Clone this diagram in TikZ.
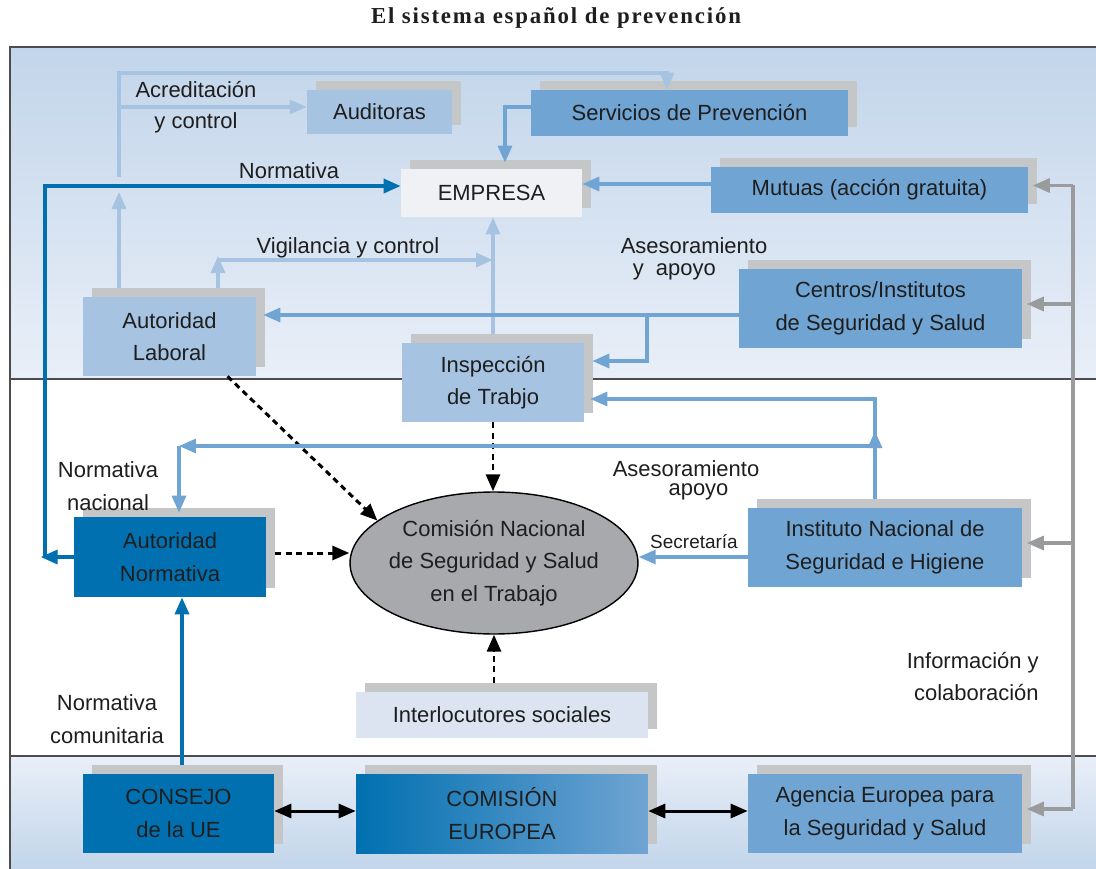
\documentclass[tikz,border=0pt]{standalone}
\usepackage{fontspec}
\setmainfont{Liberation Sans}
\newfontfamily\titlefont{Liberation Serif}[LetterSpace=8]
\usetikzlibrary{arrows.meta,shapes.geometric,shadows,calc}

\definecolor{bandtop}{HTML}{C2D5EA}
\definecolor{bandlow}{HTML}{E9EFF8}
\definecolor{boxlight}{HTML}{A6C3E2}
\definecolor{boxmed}{HTML}{70A4D3}
\definecolor{boxdark}{HTML}{0070B0}
\definecolor{boxmid}{HTML}{0A80C0}
\definecolor{boxpale}{HTML}{DCE4F1}
\definecolor{boxwhite}{HTML}{EFF1F5}
\definecolor{shadowgray}{HTML}{C5C6C8}
\definecolor{ellgray}{HTML}{A7A9AC}
\definecolor{linegray}{HTML}{9A9B9D}
\definecolor{framegray}{HTML}{4D4D4D}
\definecolor{txt}{HTML}{1E1E1E}

\tikzset{
  box/.style = {rectangle, inner sep=0pt, align=center, text=txt,
    font=\fontsize{12.5}{18.5}\selectfont,
    drop shadow={shadow xshift=0.18cm, shadow yshift=0.18cm,
      fill=shadowgray, opacity=1}},
  box_l/.style = {box, fill=boxlight},% caja azul claro
  box_m/.style = {box, fill=boxmed},% caja azul medio
  box_d/.style = {box, fill=boxdark},% caja azul oscuro
  box_p/.style = {box, fill=boxpale},
  box_e/.style = {box, fill=boxwhite},
  box_g/.style = {box, left color=boxdark, middle color=boxmid,
    right color=boxmed},
  cnsst/.style = {ellipse, draw=black, line width=0.8pt, fill=ellgray,
    inner sep=-0.1cm, minimum width=5.76cm, minimum height=2.84cm,
    align=center, text=txt, font=\fontsize{12.5}{18.5}\selectfont},
  lbl/.style = {inner sep=0pt, text=txt, align=center,
    font=\fontsize{12.5}{17.8}\selectfont},
  ln_l/.style = {draw=boxlight, line width=1.8pt},
  ln_m/.style = {draw=boxmed, line width=1.8pt},
  ln_d/.style = {draw=boxdark, line width=2pt},
  ln_g/.style = {draw=linegray, line width=1.8pt},
  ln_k/.style = {draw=black, line width=1.7pt, dash pattern=on 0.12cm off 0.09cm},
  ln_b/.style = {draw=black, line width=1.7pt},
  frame/.style = {draw=framegray, line width=1pt}
}

\begin{document}
\begin{tikzpicture}[x=0.02cm, y=-0.02cm,
  >={Triangle[length=0.34cm,width=0.28cm]}]
\useasboundingbox (0,0) rectangle (1096,869);

% fondos
\fill[top color=bandtop, bottom color=bandlow] (10,47) rectangle (1096,379);
\fill[top color=bandlow, bottom color=bandtop] (10,756) rectangle (1096,869);
\draw[frame] (1096,47) -- (10,47) -- (10,869);
\draw[frame] (10,379) -- (1096,379);
\draw[frame] (10,756) -- (1096,756);

\node[font=\titlefont\bfseries\fontsize{13}{15}\selectfont, text=txt]
  (title) at (556,18) {El sistema español de prevención};

% cajas
\node[box_l, minimum width=2.9cm, minimum height=0.88cm] (aud) at (379.5,112) {Auditoras};
\node[box_m, minimum width=6.34cm, minimum height=0.92cm] (serv) at (689.5,113) {Servicios de Prevención};
\node[box_e, minimum width=3.62cm, minimum height=0.96cm] (emp) at (491.5,193) {EMPRESA};
\node[box_m, minimum width=6.34cm, minimum height=0.92cm] (mut) at (869.5,190) {Mutuas (acción gratuita)};
\node[box_l, minimum width=3.46cm, minimum height=1.58cm] (al) at (169.5,336.5) {Autoridad\\Laboral};
\node[box_m, minimum width=5.66cm, minimum height=1.58cm] (cen) at (880.5,308.5) {Centros/Institutos\\de Seguridad y Salud};
\node[box_l, minimum width=3.64cm, minimum height=1.58cm] (insp) at (493,382.5) {Inspección\\de Trabjo};
\node[box_d, minimum width=3.84cm, minimum height=1.6cm] (an) at (170,557) {Autoridad\\Normativa};
\node[box_m, minimum width=5.48cm, minimum height=1.58cm] (inst) at (885,547.5) {Instituto Nacional de\\Seguridad e Higiene};
\node[box_p, minimum width=5.84cm, minimum height=0.92cm] (inter) at (502,715) {Interlocutores sociales};
\node[cnsst] (cnsst) at (494,563) {Comisión Nacional\\de Seguridad y Salud\\en el Trabajo};
\node[box_d, minimum width=3.82cm, minimum height=1.58cm] (cons) at (178.5,813.5) {CONSEJO\\de la UE};
\node[box_g, minimum width=5.84cm, minimum height=1.58cm] (com) at (502,813.5) {COMISIÓN\\EUROPEA};
\node[box_m, minimum width=5.48cm, minimum height=1.58cm] (agen) at (885,813.5) {Agencia Europea para\\la Seguridad y Salud};

% puntos de paso
\coordinate (acr) at (119,177);
\coordinate (acrL) at (119,73);
\coordinate (acrR) at (667,73);
\coordinate (nrm) at (45,186);
\coordinate (vig) at (218,260);
\coordinate (ase) at (647,315);
\coordinate (aseB) at (647,361);
\coordinate (insU) at (875,399);
\coordinate (nac) at (875,446);
\coordinate (nacL) at (179,446);
\coordinate (sec) at (700,557);
\coordinate (gry) at (1073,0);

% acreditacion y control
\draw[ln_l,->,shorten <=0.18cm] (al.north -| acr) -- ($(acr)+(0,15)$);
\draw[ln_l,->] (acr) -- (acrL) -- (acrR) -- (acrR |- serv.north);
\draw[ln_l,->] ($(acr |- aud.west)+(0,-5)$) -- ($(aud.west)+(0,-5)$);

% normativa
\draw[ln_d,->] (an.west) -- ++(-33,0);
\draw[ln_d,->] (nrm |- an.west) -- (nrm) -- (nrm -| emp.west);

% hacia la empresa
\draw[ln_m,->,shorten >=0.12cm] ($(serv.west)+(0,-6)$) -| ($(emp.north)+(13.5,0)$);
\draw[ln_m,->] ($(mut.west)+(0,-6)$) -- ($(mut.west -| emp.east)+(0,-6)$);
\draw[ln_l,->,shorten <=0.18cm] (insp.north) -- (insp.north |- emp.south);

% vigilancia y control
\draw[ln_l,->,shorten <=0.18cm] (al.north -| vig) -- ($(vig)+(0,-4)$);
\draw[ln_l,->] (vig) -- (vig -| insp.north);

% asesoramiento y apoyo
\draw[ln_m,->,shorten >=0.14cm] (cen.west |- ase) -- (al.east |- ase);
\draw[ln_m,->,shorten >=0.16cm] (ase) -- (aseB) -- (aseB -| insp.east);

% comision nacional
\draw[ln_k,->] ($(al.south)+(58,0)$) -- (cnsst.160);
\draw[ln_k,->] (insp.south) -- (insp.south |- cnsst.north);
\draw[ln_k,->,shorten <=0.18cm] ($(an.east)+(0,-4)$) -- ($(an.east -| cnsst.west)+(0,-4)$);
\draw[ln_k,->,shorten <=0.18cm] (cnsst.south |- inter.north) -- (cnsst.south);
\draw[ln_m,->] (inst.west |- sec) -- (sec -| cnsst.east);

% instituto nacional
\draw[ln_m,->,shorten <=0.18cm,shorten >=0.12cm] (inst.north -| insU) -- (insU) -- (insU -| insp.east);
\draw[ln_m,->] (nac) -- ($(nac)+(0,-15)$);
\draw[ln_m,->] (nac) -- (nacL);
\draw[ln_m,->,shorten >=0.08cm] (nacL) -- (nacL |- an.north);

% normativa comunitaria
\draw[ln_d,->,shorten <=0.18cm] ($(cons.north)+(3.5,0)$) -- ($(cons.north |- an.south)+(3.5,0)$);

% informacion y colaboracion
\draw[ln_g] ($(gry |- mut.east)+(0,-5)$) -- ($(gry |- agen.east)+(0,-4.5)$);
\foreach \n in {mut,cen,inst,agen}
  \draw[ln_g,->,shorten >=0.09cm] ($(gry |- \n.east)+(0,-4.5)$) -- ($(\n.east)+(0,-4.5)$);

% union europea
\draw[ln_b,<->] ($(cons.east)+(0,-2.5)$) -- ($(com.west)+(0,-2.5)$);
\draw[ln_b,<->] ($(com.east)+(0,-2.5)$) -- ($(agen.west)+(0,-2.5)$);

% rotulos
\node[lbl] (acrT) at (196,107.5) {Acreditación\\y control};
\node[lbl] (nrmT) at (289,171) {Normativa};
\node[lbl] (vigT) at (348,248) {Vigilancia y control};
\node[lbl, align=left, font=\fontsize{12.5}{12.5}\selectfont] (aseT) at (694,259)
  {Asesoramiento\\\hspace*{0.24cm}y\ \ apoyo};
\node[lbl, font=\fontsize{12.5}{11}\selectfont] (aseT2) at (686,480)
  {Asesoramiento\\\hspace*{0.5cm}apoyo};
\node[lbl, font=\fontsize{10.8}{12}\selectfont] (secT) at (694,542) {Secretaría};
\node[lbl, font=\fontsize{12.5}{18.7}\selectfont] (nacT) at (108,486.5) {Normativa\\nacional};
\node[lbl, font=\fontsize{12.5}{18.7}\selectfont] (comT) at (107,719.5) {Normativa\\comunitaria};
\node[lbl, align=right, anchor=east, font=\fontsize{12.5}{18.7}\selectfont]
  (infT) at (1039,676.5) {Información y\\colaboración};
\end{tikzpicture}
\end{document}
